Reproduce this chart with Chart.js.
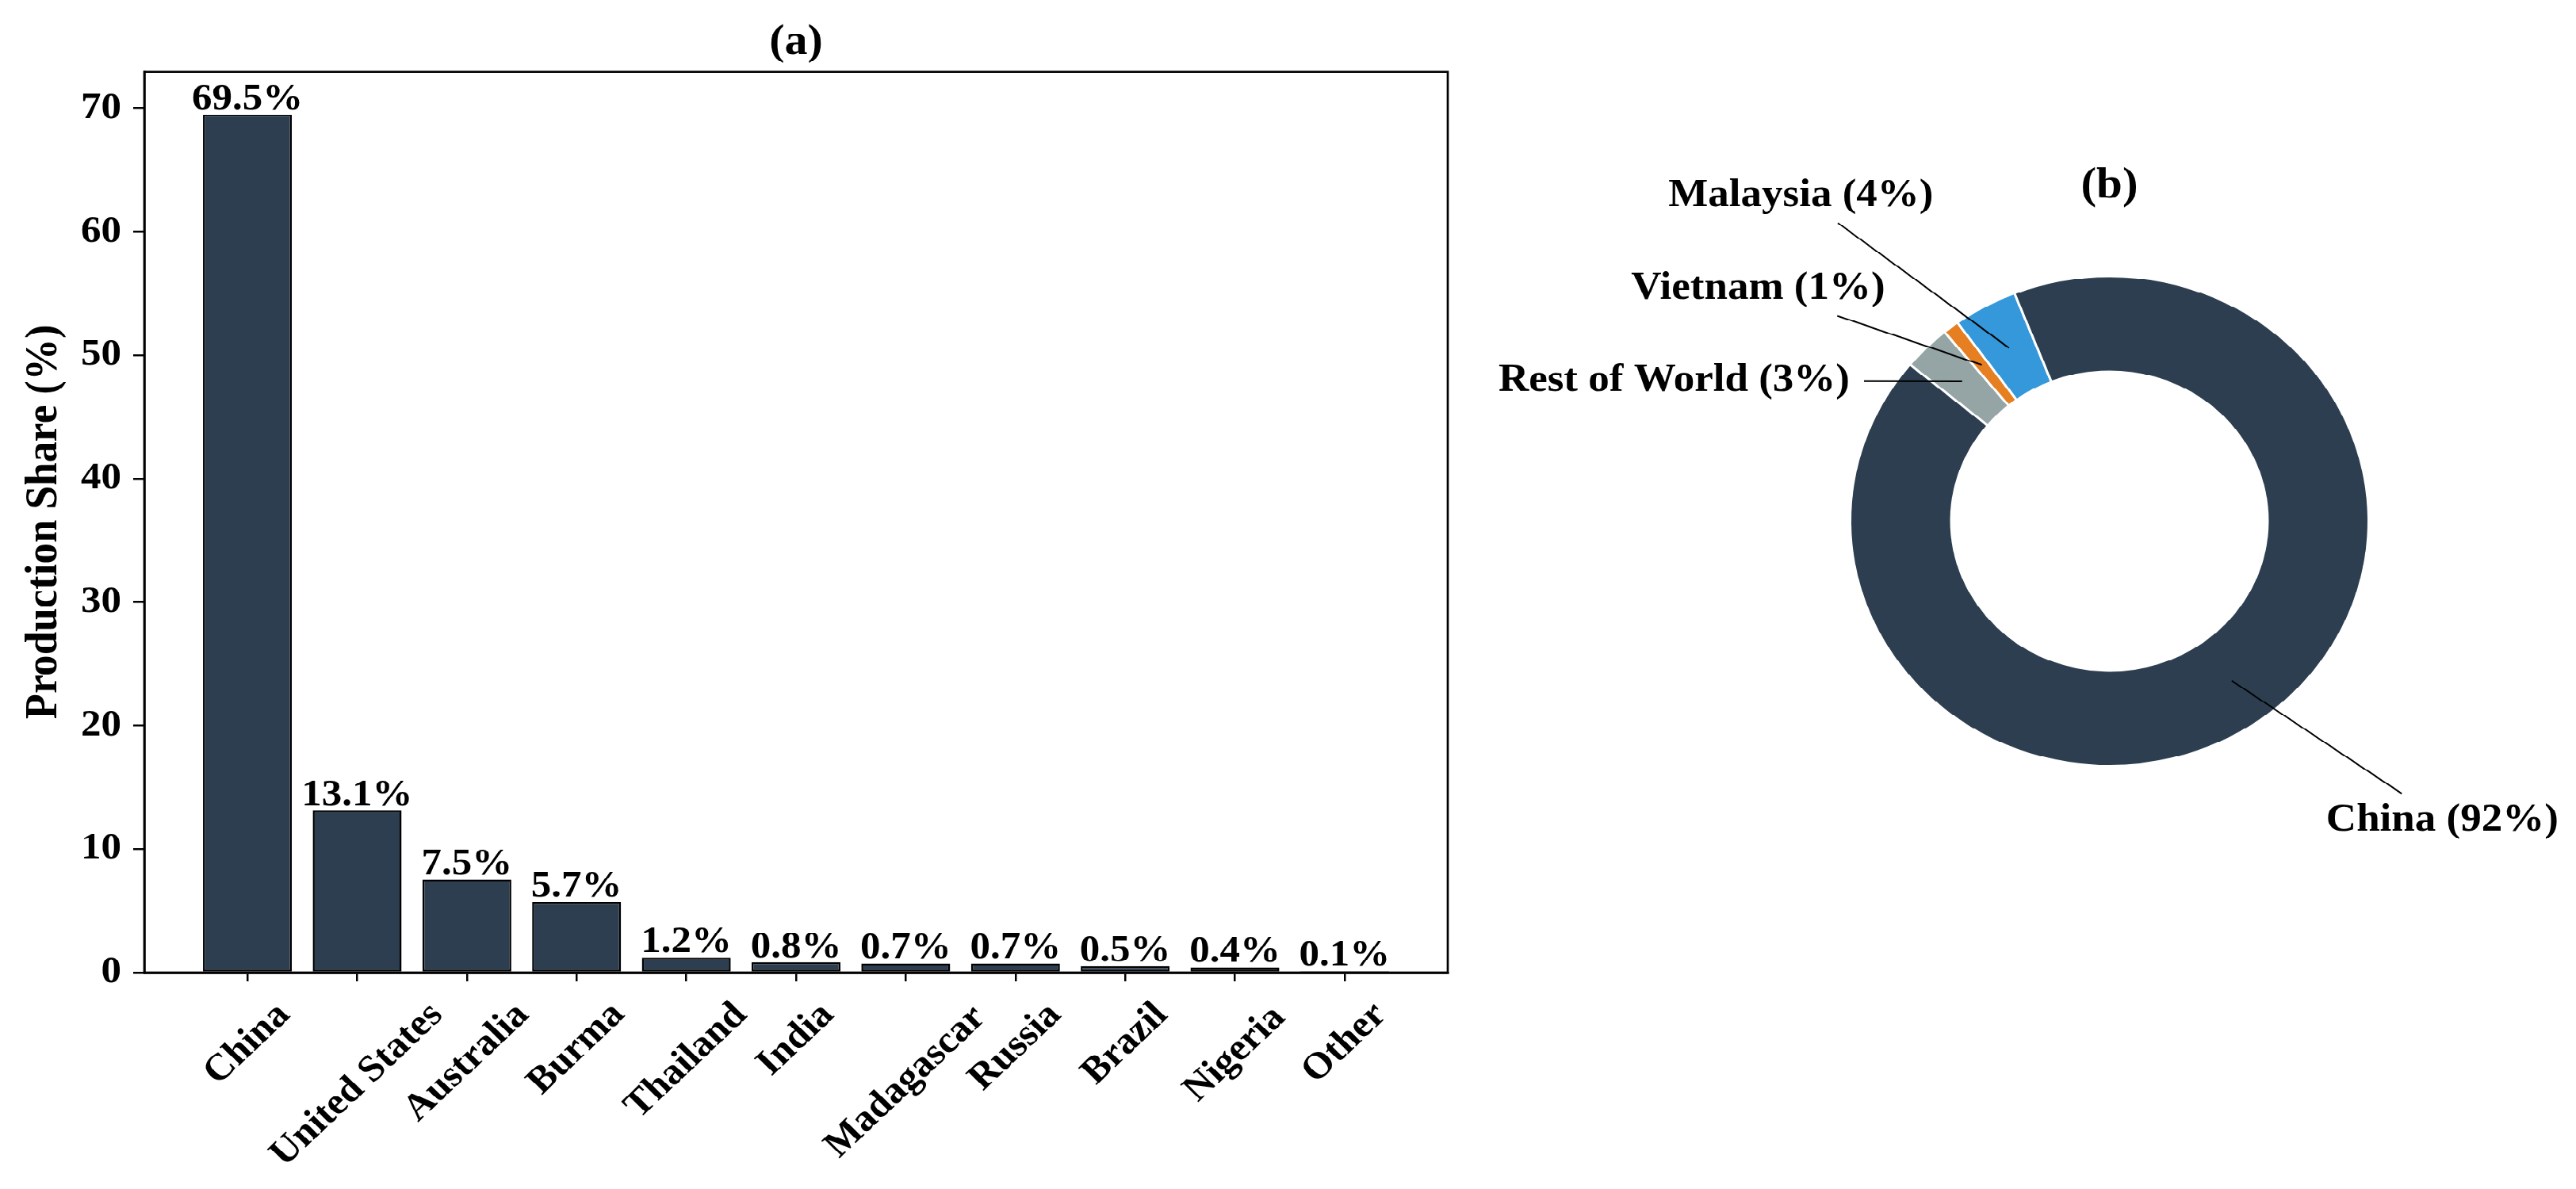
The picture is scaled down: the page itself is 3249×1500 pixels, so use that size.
<!DOCTYPE html>
<html lang="en">
<head>
<meta charset="UTF-8">
<title>Production Share</title>
<script src="https://cdn.jsdelivr.net/npm/chart.js"></script>
<style>
    html, body { margin: 0; padding: 0; background: #fff; overflow: hidden; }
    /* the source figure is slightly squashed vertically, so the whole page is too */
    #page { position: relative; width: 3249px; height: 1587px; transform: scaleY(0.945); transform-origin: 0 0; }
    #bar { position: absolute; left: 0; top: 0; }
    #pie { position: absolute; left: 1850px; top: 0; }
</style>
</head>
<body>
<div id="page">
    <canvas id="bar" width="1900" height="1587"></canvas>
    <canvas id="pie" width="1399" height="1587"></canvas>
</div>
<script>
// (a) production share by country
const countries = ['China', 'United States', 'Australia', 'Burma', 'Thailand', 'India',
                   'Madagascar', 'Russia', 'Brazil', 'Nigeria', 'Other'];
const shares = [69.5, 13.1, 7.5, 5.7, 1.2, 0.8, 0.7, 0.7, 0.5, 0.4, 0.1];
const yTicks = [0, 10, 20, 30, 40, 50, 60, 70];

// (b) share, listed clockwise from the upper left
const pieLabels = ['Rest of World', 'Vietnam', 'Malaysia', 'China'];
const pieShares = [3, 1, 4, 92];
const pieColors = ['#95a5a6', '#e67e22', '#3498db', '#2c3e50'];
// where each callout text sits, relative to the ring centre in outer radii
const calloutPos = [[-1.679, -0.573], [-1.355, -0.948], [-1.190, -1.327], [1.284, 1.223]];

const SERIF = '"Liberation Serif", "Times New Roman", serif';
Chart.defaults.font.family = SERIF;
Chart.defaults.font.weight = 'bold';
Chart.defaults.color = '#000';

// top and right spines
const frame = {
    id: 'frame',
    afterDraw(chart) {
        const {ctx, chartArea: a} = chart;
        ctx.save();
        ctx.strokeStyle = '#000';
        ctx.lineWidth = 2.7;
        ctx.strokeRect(a.left, a.top, a.right - a.left, a.bottom - a.top);
        ctx.restore();
    }
};

// percentages above the bars
const barValues = {
    id: 'barValues',
    afterDatasetsDraw(chart) {
        const {ctx} = chart;
        ctx.save();
        ctx.font = 'bold 51px ' + SERIF;
        ctx.textAlign = 'center';
        ctx.textBaseline = 'alphabetic';
        ctx.fillStyle = '#000';
        chart.getDatasetMeta(0).data.forEach((bar, i) => {
            ctx.fillText(shares[i].toFixed(1) + '%', bar.x, bar.y - 7);
        });
        ctx.restore();
    }
};

// 45 degree country names, centred under their ticks
const xNames = {
    id: 'xNames',
    afterDraw(chart) {
        const {ctx, chartArea} = chart;
        const sx = chart.scales.x;
        ctx.save();
        ctx.font = 'bold 50px ' + SERIF;
        ctx.textAlign = 'center';
        ctx.textBaseline = 'middle';
        ctx.fillStyle = '#000';
        countries.forEach((name, i) => {
            const m = ctx.measureText(name);
            const h = m.actualBoundingBoxAscent + m.actualBoundingBoxDescent;
            const half = (m.width + h) * Math.SQRT1_2 / 2;
            ctx.save();
            ctx.translate(sx.getPixelForValue(i), chartArea.bottom + 37 + half);
            ctx.rotate(-Math.PI / 4);
            ctx.fillText(name, 0, 0);
            ctx.restore();
        });
        ctx.restore();
    }
};

new Chart(document.getElementById('bar'), {
    type: 'bar',
    data: {
        datasets: [{
            data: countries.map((c, i) => ({x: i, y: shares[i]})),
            backgroundColor: '#2c3e50',
            borderColor: '#000',
            borderWidth: 2.5,
            borderSkipped: false,
            barPercentage: 0.81,
            categoryPercentage: 1
        }]
    },
    options: {
        responsive: false,
        animation: false,
        layout: { padding: { left: 0, right: 74, top: 0, bottom: 0 } },
        plugins: {
            legend: { display: false },
            tooltip: { enabled: false },
            title: {
                display: true,
                text: '(a)',
                fullSize: false,
                font: { size: 58, weight: 'bold' },
                padding: { top: 22, bottom: 4 }
            }
        },
        scales: {
            x: {
                type: 'linear',
                offset: false,
                min: -0.94,
                max: 10.94,
                afterBuildTicks: s => { s.ticks = countries.map((c, i) => ({value: i})); },
                afterFit: s => { s.height = 289; },
                ticks: { display: false },
                grid: { offset: false, drawOnChartArea: false, tickLength: 12, color: '#000', lineWidth: 2.5 },
                border: { color: '#000', width: 2.7 }
            },
            y: {
                min: 0,
                max: 72.975,
                afterBuildTicks: s => { s.ticks = yTicks.map(v => ({value: v})); },
                afterFit: s => { s.width = 182; },
                ticks: { font: { size: 51 }, padding: 15, color: '#000' },
                grid: { drawOnChartArea: false, tickLength: 14, color: '#000', lineWidth: 2.5 },
                border: { color: '#000', width: 2.7 },
                title: {
                    display: true,
                    text: 'Production Share (%)',
                    font: { size: 56, weight: 'bold' },
                    padding: { top: 23, bottom: 0 }
                }
            }
        }
    },
    plugins: [frame, barValues, xNames]
});

// "(b)" and the labelled leader lines of the ring
const callouts = {
    id: 'callouts',
    afterDraw(chart) {
        const {ctx} = chart;
        const arcs = chart.getDatasetMeta(0).data;
        const cx = arcs[0].x, cy = arcs[0].y, R = arcs[0].outerRadius;
        ctx.save();
        ctx.fillStyle = '#000';
        ctx.strokeStyle = '#000';
        ctx.lineWidth = 2;
        ctx.textAlign = 'center';
        ctx.textBaseline = 'middle';
        ctx.font = 'bold 59px ' + SERIF;
        ctx.fillText('(b)', cx, cy - 1.365 * R);
        ctx.font = 'bold 53px ' + SERIF;
        arcs.forEach((arc, i) => {
            const text = pieLabels[i] + ' (' + pieShares[i] + '%)';
            const tx = cx + calloutPos[i][0] * R;
            const ty = cy + calloutPos[i][1] * R;
            const p = arc.tooltipPosition();
            const hw = ctx.measureText(text).width / 2 + 18, hh = 36;
            const dx = p.x - tx, dy = p.y - ty;
            const t = Math.min(dx ? hw / Math.abs(dx) : Infinity, dy ? hh / Math.abs(dy) : Infinity);
            ctx.beginPath();
            ctx.moveTo(tx + dx * t, ty + dy * t);
            ctx.lineTo(p.x, p.y);
            ctx.stroke();
            ctx.fillText(text, tx, ty);
        });
        ctx.restore();
    }
};

new Chart(document.getElementById('pie'), {
    type: 'doughnut',
    data: {
        labels: pieLabels,
        datasets: [{
            data: pieShares,
            backgroundColor: pieColors,
            borderColor: '#fff',
            borderWidth: 3,
            hoverOffset: 0
        }]
    },
    options: {
        responsive: false,
        animation: false,
        rotation: -50.3,
        cutout: '61%',
        layout: { padding: { left: 482, right: 260, top: 367, bottom: 563 } },
        plugins: {
            legend: { display: false },
            tooltip: { enabled: false }
        }
    },
    plugins: [callouts]
});
</script>
</body>
</html>
